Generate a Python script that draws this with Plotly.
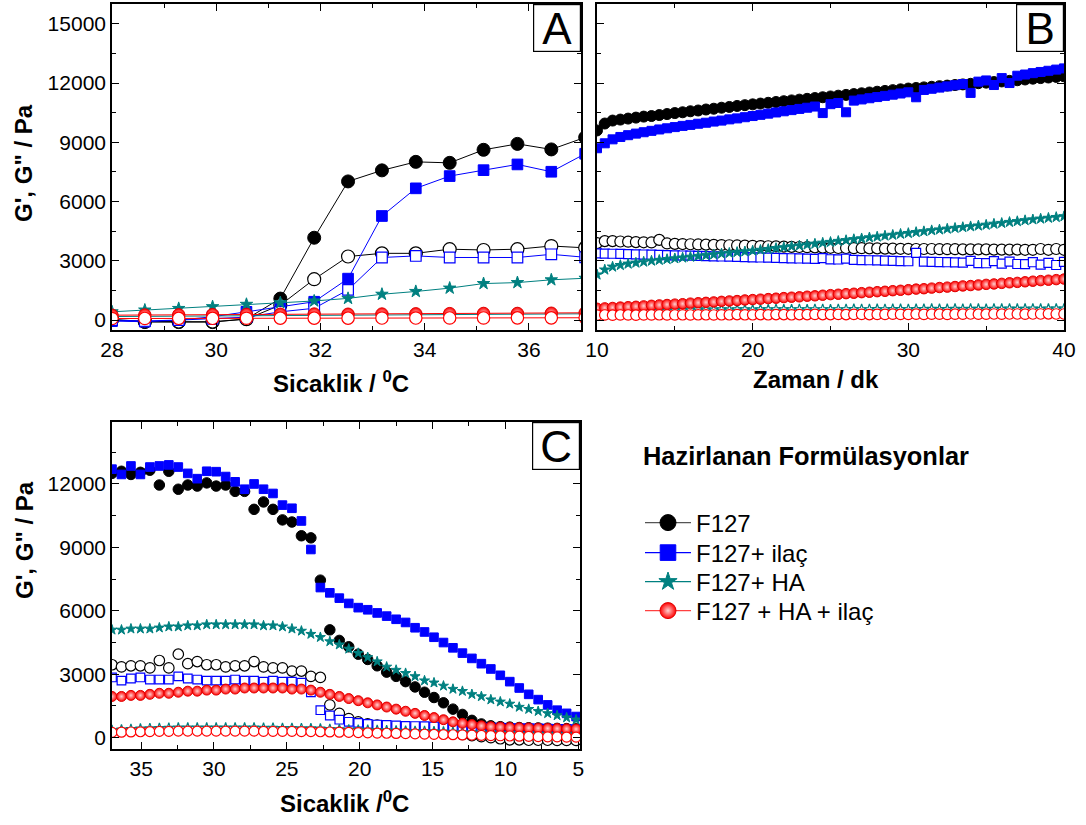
import plotly.graph_objects as go

FONT = "Liberation Sans, Arial, sans-serif"
BLACK, BLUE, TEAL, RED = "#000000", "#0000ff", "#008080", "#ff0000"

# ---------------- Panel A: heating ramp, G' / G'' vs temperature ----------------
temp_a = [28.0, 28.63, 29.28, 29.93, 30.58, 31.23, 31.88, 32.53, 33.18, 33.83,
          34.48, 35.13, 35.78, 36.43, 37.08]
a_f127_g1 = [20, -100, -100, -100, 60, 1090, 4170, 7020, 7580, 8010, 7960, 8620, 8920, 8640, 9250]
a_f127_g2 = [30, -60, -80, -80, 50, 760, 2070, 3220, 3380, 3380, 3590, 3550, 3590, 3750, 3660]
a_ilac_g1 = [-50, -80, 0, 170, 420, 680, 930, 2100, 5270, 6670, 7290, 7590, 7880, 7510, 8420]
a_ilac_g2 = [0, -40, 0, 60, 150, 420, 600, 1530, 3170, 3250, 3170, 3170, 3170, 3330, 3180]
a_ha_g1 = [420, 510, 590, 680, 800, 880, 970, 1100, 1310, 1450, 1620, 1850, 1900, 2040, 2120]
a_ha_g2 = [180, 190, 200, 200, 210, 230, 240, 250, 260, 270, 280, 290, 300, 310, 320]
a_haila_g1 = [250, 260, 270, 280, 290, 300, 310, 300, 310, 320, 330, 340, 340, 350, 370]
a_haila_g2 = [80, 85, 90, 90, 95, 100, 100, 100, 105, 105, 110, 110, 115, 115, 120]

# ---------------- Panel B: time sweep at constant temperature ----------------
time_b = [10.0, 10.5, 11.0, 11.5, 12.0, 12.5, 13.0, 13.5, 14.0, 14.5,
          15.0, 15.5, 16.0, 16.5, 17.0, 17.5, 18.0, 18.5, 19.0, 19.5,
          20.0, 20.5, 21.0, 21.5, 22.0, 22.5, 23.0, 23.5, 24.0, 24.5,
          25.0, 25.5, 26.0, 26.5, 27.0, 27.5, 28.0, 28.5, 29.0, 29.5,
          30.0, 30.5, 31.0, 31.5, 32.0, 32.5, 33.0, 33.5, 34.0, 34.5,
          35.0, 35.5, 36.0, 36.5, 37.0, 37.5, 38.0, 38.5, 39.0, 39.5,
          40.0]
b_f127_g1 = [9600, 9950, 10100, 10150, 10200, 10250, 10300, 10330, 10380, 10430,
             10480, 10520, 10570, 10610, 10660, 10700, 10750, 10790, 10840, 10880,
             10920, 10960, 11000, 11040, 11080, 11120, 11160, 11200, 11240, 11280,
             11320, 11360, 11400, 11440, 11480, 11520, 11560, 11600, 11640, 11680,
             11720, 11750, 11780, 11810, 11840, 11870, 11900, 11930, 11960, 11990,
             12020, 12050, 12080, 12110, 12140, 12180, 12220, 12250, 12280, 12310,
             12340]
b_f127_g2 = [3900, 4000, 4000, 3980, 3970, 3950, 3940, 3930, 4060, 3880,
             3860, 3850, 3840, 3830, 3820, 3810, 3800, 3790, 3780, 3770,
             3760, 3750, 3740, 3730, 3720, 3710, 3700, 3690, 3680, 3670,
             3660, 3650, 3650, 3640, 3640, 3630, 3630, 3620, 3620, 3610,
             3610, 3600, 3600, 3600, 3590, 3590, 3590, 3580, 3580, 3580,
             3580, 3570, 3570, 3570, 3570, 3560, 3560, 3600, 3560, 3600,
             3560]
b_ilac_g1 = [8700, 8950, 9150, 9270, 9360, 9440, 9510, 9580, 9650, 9710,
             9770, 9830, 9880, 9940, 9990, 10050, 10100, 10160, 10210, 10270,
             10330, 10390, 10450, 10510, 10570, 10630, 10690, 10750, 10810, 10480,
             10930, 10990, 10520, 11110, 11170, 11230, 11290, 11350, 11410, 11470,
             11530, 11280, 11650, 11710, 11770, 11830, 11890, 11950, 11500, 12070,
             12130, 11900, 12250, 12000, 12370, 12430, 12500, 12560, 12620, 12680,
             12740]
b_ilac_g2 = [3380, 3370, 3360, 3350, 3340, 3330, 3320, 3310, 3300, 3290,
             3280, 3270, 3260, 3250, 3240, 3230, 3220, 3210, 3200, 3190,
             3180, 3170, 3160, 3150, 3140, 3130, 3120, 3110, 3100, 3140,
             3080, 3070, 3110, 3050, 3040, 3030, 3020, 3010, 3000, 2990,
             2980, 3400, 2960, 2950, 2940, 2930, 2920, 2910, 3000, 2890,
             2880, 2990, 2860, 2960, 2840, 2830, 2930, 2810, 2900, 2790,
             2950]
b_ha_g1 = [2300, 2550, 2700, 2780, 2850, 2900, 2950, 3000, 3040, 3080,
           3120, 3160, 3200, 3240, 3280, 3320, 3360, 3400, 3440, 3470,
           3510, 3550, 3590, 3640, 3680, 3730, 3770, 3820, 3860, 3910,
           3950, 4000, 4040, 4090, 4130, 4180, 4220, 4270, 4310, 4360,
           4400, 4450, 4490, 4540, 4580, 4620, 4660, 4700, 4740, 4780,
           4820, 4870, 4910, 4960, 5000, 5050, 5090, 5130, 5170, 5210,
           5250]
b_ha_g2 = [480, 490, 500, 500, 510, 500, 510, 520, 510, 520,
           520, 510, 520, 530, 520, 520, 530, 520, 530, 530,
           520, 530, 530, 540, 530, 530, 540, 530, 540, 540,
           530, 540, 540, 550, 540, 540, 550, 540, 550, 550,
           540, 550, 550, 560, 550, 550, 560, 550, 560, 560,
           550, 560, 560, 570, 560, 560, 570, 560, 570, 570,
           570]
b_haila_g1 = [600, 620, 640, 660, 680, 700, 720, 750, 770, 790,
              810, 830, 860, 880, 900, 920, 950, 970, 990, 1020,
              1040, 1060, 1090, 1110, 1140, 1160, 1180, 1210, 1230, 1260,
              1290, 1310, 1340, 1360, 1390, 1410, 1440, 1460, 1490, 1510,
              1540, 1570, 1590, 1620, 1650, 1670, 1700, 1730, 1750, 1780,
              1810, 1830, 1860, 1890, 1910, 1940, 1970, 2000, 2020, 2050,
              2080]
b_haila_g2 = [250, 260, 250, 260, 260, 250, 260, 260, 270, 260,
              260, 270, 260, 270, 270, 260, 270, 270, 280, 270,
              270, 280, 270, 280, 280, 270, 280, 280, 290, 280,
              280, 290, 280, 290, 290, 280, 290, 290, 300, 290,
              290, 300, 290, 300, 300, 290, 300, 300, 310, 300,
              300, 310, 300, 310, 310, 300, 310, 310, 320, 310,
              310]

# ---------------- Panel C: cooling ramp, G' / G'' vs temperature ----------------
temp_c = [37.0, 36.35, 35.7, 35.05, 34.4, 33.75, 33.1, 32.45, 31.8, 31.15,
          30.5, 29.85, 29.2, 28.55, 27.9, 27.25, 26.6, 25.95, 25.3, 24.65,
          24.0, 23.35, 22.7, 22.05, 21.4, 20.75, 20.1, 19.45, 18.8, 18.15,
          17.5, 16.85, 16.2, 15.55, 14.9, 14.25, 13.6, 12.95, 12.3, 11.65,
          11.0, 10.35, 9.7, 9.05, 8.4, 7.75, 7.1, 6.45, 5.8, 5.15]
c_f127_g1 = [12500, 12600, 12450, 12550, 12650, 11950, 12600, 11750, 11950, 11900,
             12050, 11900, 11950, 11650, 11650, 10800, 11150, 10800, 10300, 10200,
             9550, 9450, 7450, 5100, 4600, 4300, 3950, 3700, 3400, 3100,
             2900, 2650, 2400, 2150, 1900, 1650, 1350, 1100, 820, 650,
             560, 520, 500, 480, 470, 460, 450, 440, 430, 420]
c_f127_g2 = [3450, 3350, 3400, 3400, 3300, 3650, 3300, 3950, 3500, 3600,
             3450, 3450, 3350, 3400, 3400, 3600, 3350, 3300, 3300, 3150,
             3150, 2900, 2850, 1550, 1150, 900, 750, 650, 600, 550,
             500, 450, 400, 350, 300, 250, 200, 150, 100, 50,
             0, -50, -100, -100, -120, -120, -120, -130, -130, -130]
c_ilac_g1 = [12700, 12450, 12850, 12450, 12800, 12850, 12900, 12800, 12500, 12250,
             12600, 12580, 12350, 12100, 11750, 12000, 11750, 11550, 11000, 10850,
             10250, 8900, 7100, 6850, 6600, 6350, 6150, 6050, 5900, 5750,
             5600, 5450, 5200, 5000, 4750, 4500, 4250, 4000, 3750, 3500,
             3250, 2950, 2650, 2350, 2050, 1800, 1550, 1300, 1150, 1000]
c_ilac_g2 = [2850, 2700, 2800, 2850, 2750, 2750, 2750, 2900, 2800, 2750,
             2700, 2700, 2700, 2750, 2700, 2700, 2650, 2700, 2650, 2650,
             2600, 2150, 1300, 1050, 850, 750, 700, 650, 620, 600,
             580, 560, 550, 540, 530, 520, 510, 500, 500, 490,
             480, 470, 460, 450, 450, 440, 430, 420, 410, 400]
c_ha_g1 = [5100, 5100, 5150, 5150, 5150, 5200, 5250, 5250, 5300, 5300,
           5350, 5350, 5350, 5350, 5350, 5350, 5300, 5300, 5250, 5150,
           5050, 4900, 4750, 4550, 4400, 4200, 4000, 3800, 3600, 3350,
           3200, 3050, 2900, 2700, 2600, 2450, 2300, 2200, 2050, 1950,
           1800, 1700, 1600, 1450, 1350, 1250, 1150, 1050, 950, 850]
c_ha_g2 = [350, 380, 400, 420, 440, 450, 460, 470, 470, 470,
           470, 470, 470, 470, 470, 470, 460, 460, 450, 450,
           440, 430, 420, 400, 390, 380, 370, 360, 350, 340,
           330, 320, 310, 300, 290, 280, 270, 250, 240, 230,
           220, 210, 200, 190, 180, 170, 160, 150, 150, 150]
c_haila_g1 = [1950, 1950, 2000, 2000, 2050, 2100, 2100, 2150, 2200, 2200,
              2250, 2250, 2300, 2300, 2350, 2350, 2350, 2350, 2350, 2300,
              2300, 2250, 2150, 2050, 1950, 1850, 1750, 1650, 1550, 1450,
              1350, 1250, 1150, 1050, 950, 850, 750, 680, 620, 560,
              520, 500, 480, 470, 460, 450, 440, 430, 420, 410]
c_haila_g2 = [250, 260, 270, 280, 290, 300, 300, 310, 310, 310,
              310, 310, 310, 310, 310, 310, 300, 300, 300, 300,
              290, 290, 280, 270, 260, 250, 240, 230, 220, 210,
              200, 190, 180, 170, 160, 150, 140, 130, 120, 110,
              100, 90, 80, 70, 60, 50, 40, 40, 30, 30]

formulations = ["F127", "F127+ ilaç", "F127+ HA", "F127 + HA + ilaç"]
colors = [BLACK, BLUE, TEAL, RED]
legend_line_colors = ["#555555", BLUE, TEAL, "#ff4040"]
symbols = ["circle", "square", "star", "circle"]
size_scale = [1.0, 0.82, 0.72, 0.95]   # visual size of each symbol relative to the circle

series_a = [(a_f127_g1, a_f127_g2), (a_ilac_g1, a_ilac_g2), (a_ha_g1, a_ha_g2), (a_haila_g1, a_haila_g2)]
series_b = [(b_f127_g1, b_f127_g2), (b_ilac_g1, b_ilac_g2), (b_ha_g1, b_ha_g2), (b_haila_g1, b_haila_g2)]
series_c = [(c_f127_g1, c_f127_g2), (c_ilac_g1, c_ilac_g2), (c_ha_g1, c_ha_g2), (c_haila_g1, c_haila_g2)]


def filled_marker(i, size):
    m = dict(symbol=symbols[i], size=size * size_scale[i], color=colors[i],
             line=dict(color=colors[i], width=1))
    if i == 3:
        # glossy red sphere
        m["gradient"] = dict(type="radial", color="#ffd0d0")
        m["line"] = dict(color="#e00000", width=1)
    return m


def open_marker(i, size):
    return dict(symbol=symbols[i], size=size * size_scale[i], color="white",
                line=dict(color=colors[i], width=1.2))


fig = go.Figure()

panels = [
    (temp_a, series_a, "x", "y", "lines+markers", 13),
    (time_b, series_b, "x2", "y2", "markers", 11),
    (temp_c, series_c, "x3", "y3", "markers", 10.5),
]
for xs, series, xa, ya, mode, msize in panels:
    for i, (g1, g2) in enumerate(series):
        fig.add_trace(go.Scatter(x=xs, y=g1, xaxis=xa, yaxis=ya, mode=mode,
                                 line=dict(color=colors[i], width=1),
                                 marker=filled_marker(i, msize), showlegend=False))
        fig.add_trace(go.Scatter(x=xs, y=g2, xaxis=xa, yaxis=ya, mode=mode,
                                 line=dict(color=colors[i], width=1),
                                 marker=open_marker(i, msize), showlegend=False))

W, H = 1086, 825

# legend: one legend box per formulation so the row spacing can be set freely
legend_rows = [523, 553, 582, 611]
legend_layout = {}
for i, name in enumerate(formulations):
    key = "legend" if i == 0 else "legend%d" % (i + 1)
    fig.add_trace(go.Scatter(x=[None], y=[None], xaxis="x", yaxis="y", mode="lines+markers",
                             name=name, legend=key,
                             line=dict(color=legend_line_colors[i], width=1.3),
                             marker=filled_marker(i, 19), showlegend=True))
    legend_layout[key] = dict(x=640 / W, y=1 - legend_rows[i] / H, xanchor="left", yanchor="middle",
                              bgcolor="rgba(0,0,0,0)", borderwidth=0, itemwidth=46,
                              font=dict(family=FONT, size=24, color="black"))


def px_x(a, b):
    return [a / W, b / W]


def px_y(top, bottom):
    return [1 - bottom / H, 1 - top / H]


axis_common = dict(showline=True, linecolor="black", linewidth=1.6, mirror="allticks",
                   ticks="inside", ticklen=7, tickwidth=1.4, tickcolor="black",
                   showgrid=False, zeroline=False, automargin=False, tickformat="d",
                   tickfont=dict(family=FONT, size=21, color="black"))

fig.update_layout(
    width=W, height=H, margin=dict(l=0, r=0, t=0, b=0),
    paper_bgcolor="white", plot_bgcolor="white",
    font=dict(family=FONT, color="black"),
    xaxis=dict(axis_common, domain=px_x(112, 581), anchor="y", range=[28, 37],
               tickvals=[28, 30, 32, 34, 36],
               minor=dict(ticks="inside", ticklen=4, tickwidth=1.2, dtick=1, tickcolor="black")),
    yaxis=dict(axis_common, domain=px_y(4, 330), anchor="x", range=[-500, 16000],
               tickvals=[0, 3000, 6000, 9000, 12000, 15000],
               minor=dict(ticks="inside", ticklen=4, tickwidth=1.2, dtick=1500, tickcolor="black")),
    xaxis2=dict(axis_common, domain=px_x(597, 1064), anchor="y2", range=[10, 40],
                tickvals=[10, 20, 30, 40],
                minor=dict(ticks="inside", ticklen=4, tickwidth=1.2, dtick=5, tickcolor="black")),
    yaxis2=dict(axis_common, domain=px_y(4, 330), anchor="x2", range=[-500, 16000],
                tickvals=[0, 3000, 6000, 9000, 12000, 15000], showticklabels=False,
                minor=dict(ticks="inside", ticklen=4, tickwidth=1.2, dtick=1500, tickcolor="black")),
    xaxis3=dict(axis_common, domain=px_x(112, 580), anchor="y3", range=[37, 4.88],
                tickvals=[35, 30, 25, 20, 15, 10, 5],
                minor=dict(ticks="inside", ticklen=4, tickwidth=1.2, dtick=2.5, tickcolor="black")),
    yaxis3=dict(axis_common, domain=px_y(422, 749), anchor="x3", range=[-535, 14930],
                tickvals=[0, 3000, 6000, 9000, 12000],
                minor=dict(ticks="inside", ticklen=4, tickwidth=1.2, dtick=1500, tickcolor="black")),
    **legend_layout,
)

ytitle = "G', G\" / Pa"
title_font = dict(family=FONT, size=24, color="black")
annotations = [
    dict(text="<b>" + ytitle + "</b>", x=24 / W, y=1 - 163 / H, textangle=-90),
    dict(text="<b>" + ytitle + "</b>", x=24 / W, y=1 - 540 / H, textangle=-90),
    dict(text="<b>Sicaklik / <sup>0</sup>C</b>", x=341 / W, y=1 - 382 / H),
    dict(text="<b>Zaman / dk</b>", x=816 / W, y=1 - 379 / H),
    dict(text="<b>Sicaklik /<sup>0</sup>C</b>", x=344 / W, y=1 - 802 / H),
]
for a in annotations:
    fig.add_annotation(xref="paper", yref="paper", showarrow=False,
                       xanchor="center", yanchor="middle", font=title_font, **a)

fig.add_annotation(text="<b>Hazirlanan Formülasyonlar</b>", xref="paper", yref="paper",
                   x=641 / W, y=1 - 456 / H, xanchor="left", yanchor="middle", showarrow=False,
                   font=dict(family=FONT, size=25.4, color="black"))

# panel letters in framed boxes at the top-right corner of each plot
for letter, xr, yr in [("A", "x", "y"), ("B", "x2", "y2"), ("C", "x3", "y3")]:
    fig.add_annotation(text=letter, xref=xr + " domain", yref=yr + " domain", x=1, y=1,
                       xanchor="right", yanchor="top", showarrow=False,
                       width=44, height=44, borderpad=1, bordercolor="black", borderwidth=1.2,
                       bgcolor="white", font=dict(family=FONT, size=44, color="black"))

fig.write_html("out.html")
